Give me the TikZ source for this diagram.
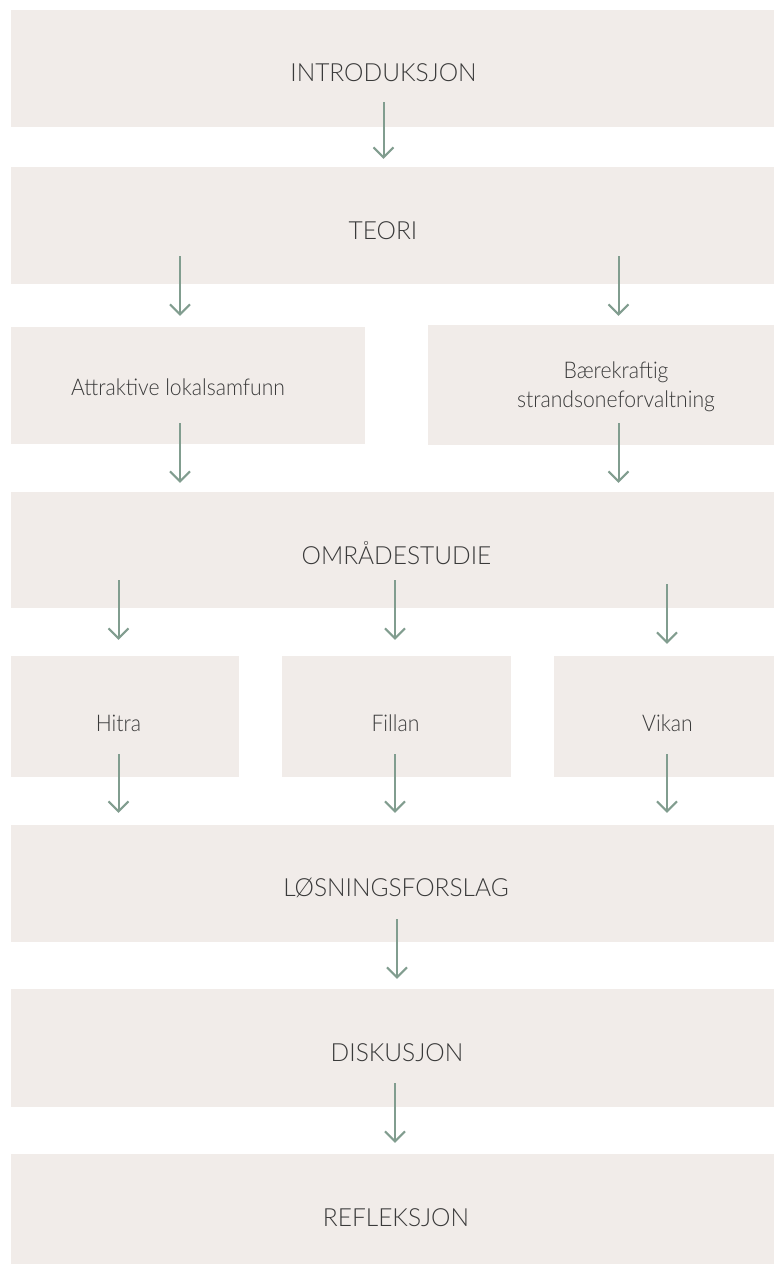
\documentclass[tikz,border=0pt]{standalone}
\usepackage{fontspec}
\setmainfont{Lato Light}
\newfontfamily\capfont{Lato Light}[FakeStretch=0.98]
\newfontfamily\lowfont{Lato Light}[FakeStretch=0.92]
\usetikzlibrary{arrows.meta}
\definecolor{boxfill}{HTML}{F1ECE9}
\definecolor{arrowcol}{HTML}{819D8F}
\definecolor{txt}{HTML}{3A3A3A}
\tikzset{
  box/.style={fill=boxfill, draw=none, inner sep=0pt, text=txt, font=\lowfont\fontsize{23}{29}\selectfont},
  capbox/.style={box, font=\capfont\fontsize{25}{30}\selectfont},
  arr/.style={draw=arrowcol, line width=2pt, -{Straight Barb[length=10pt,width=20pt]}}
}
% #1 = horizontal offset of the text centre, #2 = baseline raise, #3 = text
\newcommand{\lbl}[3]{\raisebox{#2}[0pt][0pt]{\makebox[0pt]{\hspace*{#1}\hspace*{#1}#3}}}
\begin{document}
\begin{tikzpicture}[x=1pt,y=1pt]
\useasboundingbox (0,0) rectangle (774,-1264);
% boxes
\node[capbox, minimum width=763pt, minimum height=117pt] (intro) at (392.5,-68.5) {\lbl{-9pt}{-13.2pt}{INTRODUKSJON}};
\node[capbox, minimum width=763pt, minimum height=117pt] (teori) at (392.5,-225.5) {\lbl{-9.5pt}{-13.5pt}{TEORI}};
\node[box, minimum width=354pt, minimum height=117pt] (attr) at (188,-385.5) {\lbl{-10pt}{-9.5pt}{Attraktive lokalsamfunn}};
\node[box, minimum width=346pt, minimum height=120pt] (baer) at (601,-385) {\lbl{15pt}{6.7pt}{Bærekraftig}\lbl{15pt}{-22.3pt}{strandsoneforvaltning}};
\node[capbox, minimum width=763pt, minimum height=116pt] (omr) at (392.5,-550) {\lbl{4pt}{-14pt}{OMRÅDESTUDIE}};
\node[box, minimum width=228pt, minimum height=121pt] (hitra) at (125,-716.5) {\lbl{-6.5pt}{-15.2pt}{Hitra}};
\node[box, minimum width=229pt, minimum height=121pt] (fillan) at (396.5,-716.5) {\lbl{-1pt}{-15.2pt}{Fillan}};
\node[box, minimum width=220pt, minimum height=121pt] (vikan) at (664,-716.5) {\lbl{3.5pt}{-15.2pt}{Vikan}};
\node[capbox, minimum width=763pt, minimum height=117pt] (losn) at (392.5,-883.5) {\lbl{3.5pt}{-13.2pt}{LØSNINGSFORSLAG}};
\node[capbox, minimum width=763pt, minimum height=118pt] (disk) at (392.5,-1048) {\lbl{4.5pt}{-13.7pt}{DISKUSJON}};
\node[capbox, minimum width=763pt, minimum height=110pt] (refl) at (392.5,-1209) {\lbl{3.5pt}{-17.7pt}{REFLEKSJON}};
% arrows
\draw[arr] ([xshift=-9pt,yshift=25pt]intro.south) -- ([xshift=-9pt,yshift=8pt]teori.north);
\draw[arr] ([xshift=-212.5pt,yshift=28pt]teori.south) -- ([xshift=-8pt,yshift=11pt]attr.north);
\draw[arr] ([xshift=226pt,yshift=28pt]teori.south) -- ([xshift=17.5pt,yshift=9pt]baer.north);
\draw[arr] ([xshift=-8pt,yshift=21pt]attr.south) -- ([xshift=-212.5pt,yshift=9pt]omr.north);
\draw[arr] ([xshift=17.5pt,yshift=22pt]baer.south) -- ([xshift=226pt,yshift=9pt]omr.north);
\draw[arr] ([xshift=-274pt,yshift=28pt]omr.south) -- ([xshift=-6.5pt,yshift=16pt]hitra.north);
\draw[arr] ([xshift=2.5pt,yshift=28pt]omr.south) -- ([xshift=-1.5pt,yshift=16pt]fillan.north);
\draw[arr] ([xshift=274.5pt,yshift=24pt]omr.south) -- ([xshift=3pt,yshift=12pt]vikan.north);
\draw[arr] ([xshift=-6.5pt,yshift=23pt]hitra.south) -- ([xshift=-274pt,yshift=12pt]losn.north);
\draw[arr] ([xshift=-1.5pt,yshift=23pt]fillan.south) -- ([xshift=2.5pt,yshift=12pt]losn.north);
\draw[arr] ([xshift=3pt,yshift=23pt]vikan.south) -- ([xshift=274.5pt,yshift=12pt]losn.north);
\draw[arr] ([xshift=4.5pt,yshift=23pt]losn.south) -- ([xshift=4.5pt,yshift=10pt]disk.north);
\draw[arr] ([xshift=2.5pt,yshift=24pt]disk.south) -- ([xshift=2.5pt,yshift=11pt]refl.north);
\end{tikzpicture}
\end{document}
